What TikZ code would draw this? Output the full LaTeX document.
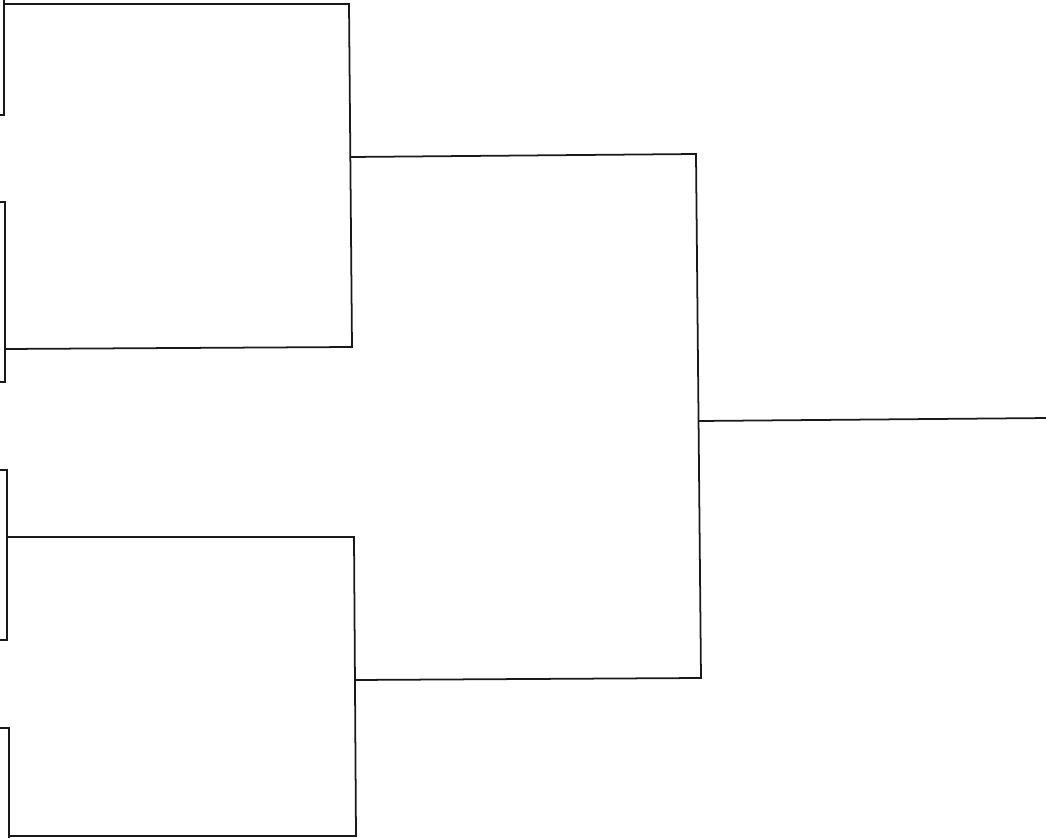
\documentclass[tikz,border=0pt]{standalone}
\usepackage{tikz}
\usetikzlibrary{positioning}

\tikzset{bracket/.style={draw=black!90,line width=1pt,line cap=rect}}

\begin{document}
\begin{tikzpicture}[x=0.02cm,y=-0.02cm]
	\clip (0,0) rectangle (1046,838);
	% Nodes
	\coordinate (a1) at (4,-10);
	\coordinate (a2) at (4,115);
	\coordinate (a1o) at (4,4);
	\coordinate (b1) at (5,202);
	\coordinate (b2) at (5,382);
	\coordinate (b1o) at (5,349);
	\coordinate (c1) at (7,470);
	\coordinate (c2) at (7,640);
	\coordinate (c1o) at (7,537);
	\coordinate (d1) at (9,728);
	\coordinate (d2) at (9,850);
	\coordinate (d1o) at (9,836);

	\coordinate (ab1) at (349,4);
	\coordinate (ab2) at (352,347);
	\coordinate (abo) at (351,157);
	\coordinate (cd1) at (354,537);
	\coordinate (cd2) at (356,836);
	\coordinate (cdo) at (355,680);

	\coordinate (f1) at (696,154);
	\coordinate (f2) at (701,678);
	\coordinate (fo) at (699,421);
	\coordinate (w) at (1050,418);

	% Edges
	\draw[bracket] (a1) -- (a2) -- ++(-10,0);
	\draw[bracket] (b1) ++(-10,0) -- (b1) -- (b2) -- ++(-10,0);
	\draw[bracket] (c1) ++(-10,0) -- (c1) -- (c2) -- ++(-10,0);
	\draw[bracket] (d1) ++(-10,0) -- (d1) -- (d2);
	\draw[bracket] (a1o) -- (ab1) -- (ab2) -- (b1o);
	\draw[bracket] (c1o) -- (cd1) -- (cd2) -- (d1o);
	\draw[bracket] (abo) -- (f1) -- (f2) -- (cdo);
	\draw[bracket] (fo) -- (w);
\end{tikzpicture}
\end{document}
